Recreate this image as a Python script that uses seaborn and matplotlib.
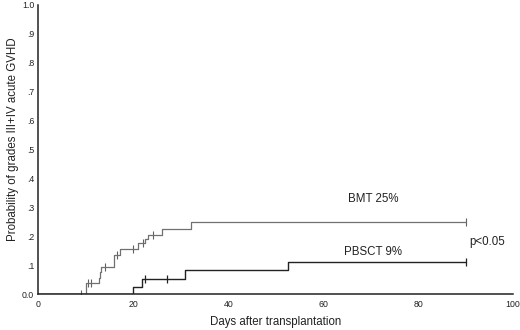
import numpy as np
import pandas as pd
import matplotlib
matplotlib.use("Agg")
import matplotlib.pyplot as plt
import seaborn as sns

# Kaplan-Meier style step data (day of event, cumulative probability after event)
bmt_days = [0, 10, 12.7, 12.9, 13.3, 16, 17.2, 20.9, 22.5, 23.2, 26, 32.1, 90]
bmt_prob = [0, 0.04, 0.056, 0.077, 0.095, 0.135, 0.155, 0.178, 0.19, 0.204, 0.227, 0.25, 0.25]
bmt_censor = [9, 10.5, 11, 14, 16.6, 20, 22, 24.1, 90]

pb_days = [0, 20, 21.8, 31, 52.6, 90]
pb_prob = [0, 0.027, 0.054, 0.083, 0.113, 0.113]
pb_censor = [22.4, 27.1, 90]

y_ticks = [0.0, 0.1, 0.2, 0.3, 0.4, 0.5, 0.6, 0.7, 0.8, 0.9, 1.0]
y_ticklabels = ["0.0", ".1", ".2", ".3", ".4", ".5", ".6", ".7", ".8", ".9", "1.0"]
x_ticks = [0, 20, 40, 60, 80, 100]


def step_value(days, prob, t):
    idx = np.searchsorted(days, t, side="right") - 1
    return np.array(prob)[idx]


sns.set_style("white")
plt.rcParams['font.family'] = ['Liberation Sans', 'DejaVu Sans']

fig = plt.figure(figsize=(5.2, 3.3), dpi=100)
ax = fig.add_axes([0.0737, 0.108, 0.913, 0.878])

bmt_df = pd.DataFrame({'day': bmt_days, 'p': bmt_prob})
pb_df = pd.DataFrame({'day': pb_days, 'p': pb_prob})

sns.lineplot(data=bmt_df, x='day', y='p', ax=ax, drawstyle='steps-post',
             estimator=None, sort=False, color='#707070', linewidth=0.9)
sns.lineplot(data=pb_df, x='day', y='p', ax=ax, drawstyle='steps-post',
             estimator=None, sort=False, color='#222222', linewidth=1.0)

bmt_c = pd.DataFrame({'day': bmt_censor,
                      'p': step_value(bmt_days, bmt_prob, bmt_censor)})
pb_c = pd.DataFrame({'day': pb_censor,
                     'p': step_value(pb_days, pb_prob, pb_censor)})
sns.scatterplot(data=bmt_c, x='day', y='p', ax=ax, marker='|', s=30,
                color='#606060', linewidth=0.8)
sns.scatterplot(data=pb_c, x='day', y='p', ax=ax, marker='|', s=30,
                color='#222222', linewidth=0.9)

ax.set_xlim(0, 100)
ax.set_ylim(0, 1.0)
ax.set_xticks(x_ticks)
ax.set_yticks(y_ticks)
ax.set_yticklabels(y_ticklabels)
ax.tick_params(axis='both', labelsize=6.3, length=3, width=0.8, direction='inout',
               colors='#222222', pad=1.5)
ax.tick_params(axis='x', direction='out', length=2, pad=2)
for s in ['top', 'right']:
    ax.spines[s].set_visible(False)
for s in ['left', 'bottom']:
    ax.spines[s].set_color('#222222')
    ax.spines[s].set_linewidth(1.1)

ax.set_xlabel("Days after transplantation", fontsize=8.3, color='#222222', labelpad=5)
ax.set_ylabel("Probability of grades III+IV acute GVHD", fontsize=8.3,
              color='#222222')
ax.yaxis.set_label_coords(-0.04, 0.535)

ax.text(65.2, 0.329, "BMT 25%", fontsize=8.3, color='#222222', va='center')
ax.text(64.3, 0.146, "PBSCT 9%", fontsize=8.3, color='#222222', va='center')
ax.text(90.8, 0.18, "p<0.05", fontsize=8.3, color='#222222', va='center')

fig.savefig("out.png", dpi=100)
